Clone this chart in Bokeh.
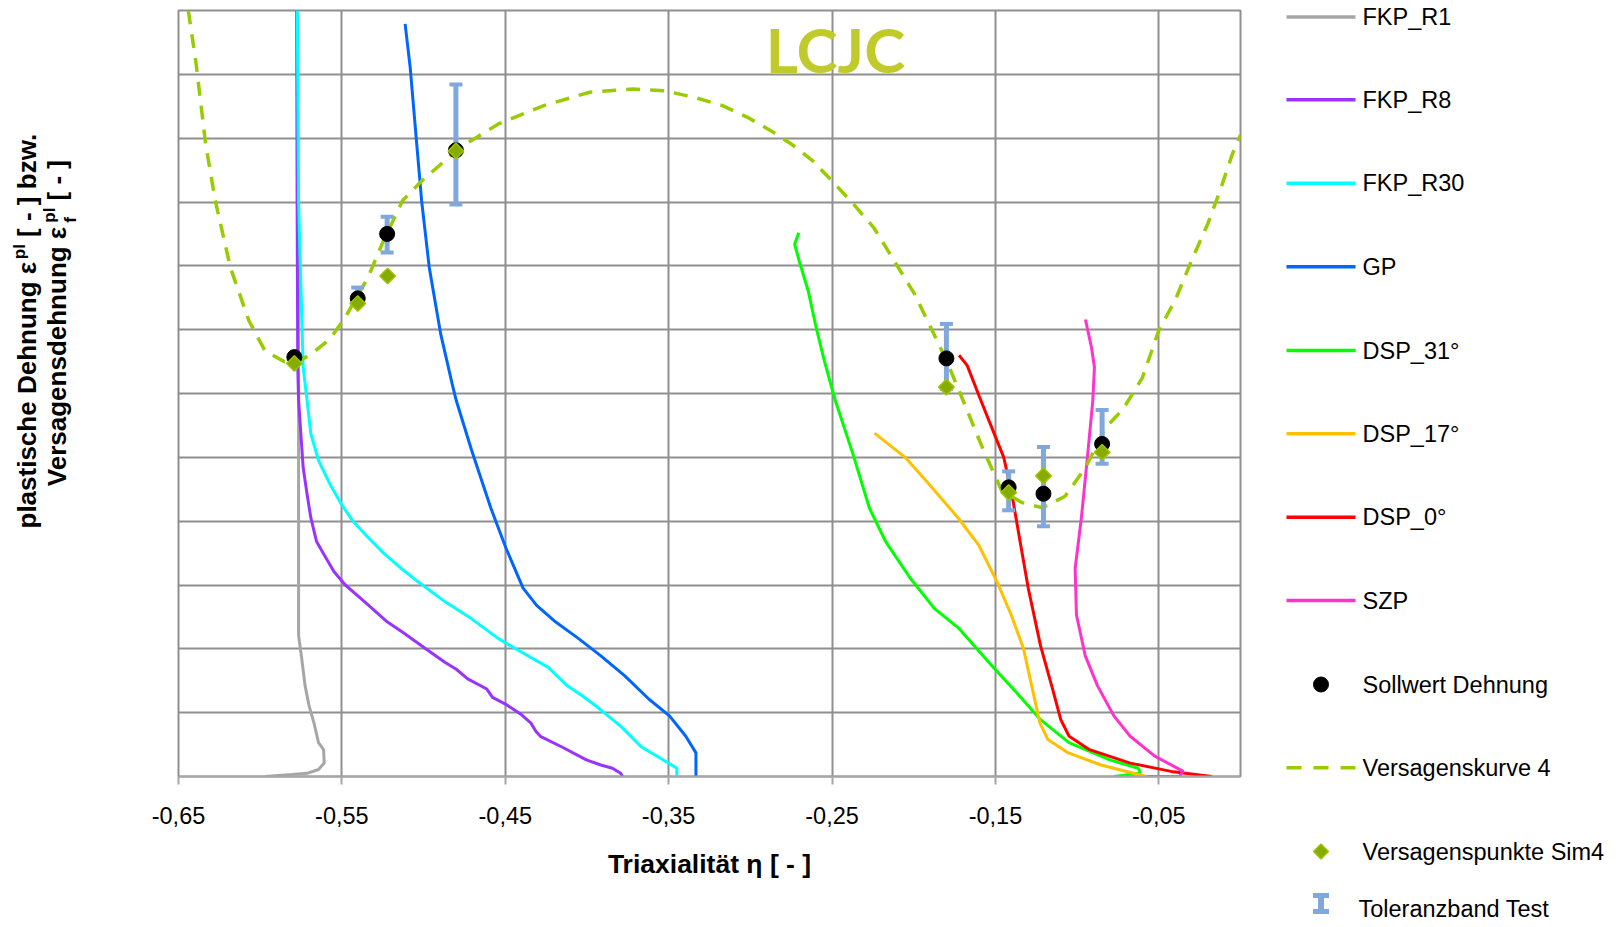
import math

from bokeh.core.properties import value
from bokeh.embed import file_html
from bokeh.layouts import row
from bokeh.models import CustomJSTickFormatter, FixedTicker, Grid, Label, Range1d
from bokeh.plotting import figure
from bokeh.resources import INLINE

# ---------------------------------------------------------------- data
# Triaxiality (eta) and plastic strain (eps) along each specimen's path
fkp_r1_eta = [-0.5773, -0.5768, -0.5765, -0.5765, -0.5765, -0.5748, -0.5725, -0.5701,
              -0.5671, -0.5643, -0.5612, -0.5608, -0.5643, -0.5713, -0.5807, -0.5971]
fkp_r1_eps = [1.200, 0.900, 0.589, 0.379, 0.221, 0.189, 0.142, 0.111,
              0.084, 0.053, 0.042, 0.021, 0.011, 0.005, 0.003, 0.000]

fkp_r8_eta = [-0.5777, -0.5774, -0.5770, -0.5765, -0.5737, -0.5713, -0.5690, -0.5655,
              -0.5608, -0.5549, -0.5479, -0.5362, -0.5221, -0.5128, -0.4987, -0.4870,
              -0.4800, -0.4730, -0.4613, -0.4578, -0.4496, -0.4402, -0.4344, -0.4313,
              -0.4285, -0.4144, -0.4004, -0.3915, -0.3844, -0.3794, -0.3782]
fkp_r8_eps = [1.200, 0.900, 0.641, 0.589, 0.484, 0.442, 0.405, 0.368,
              0.347, 0.321, 0.300, 0.274, 0.242, 0.226, 0.200, 0.179,
              0.168, 0.153, 0.137, 0.124, 0.113, 0.097, 0.084, 0.071,
              0.063, 0.045, 0.026, 0.018, 0.013, 0.005, 0.000]

fkp_r30_eta = [-0.5773, -0.5765, -0.5737, -0.5713, -0.5690, -0.5643, -0.5573, -0.5502,
               -0.5432, -0.5338, -0.5245, -0.5151, -0.5034, -0.4870, -0.4706, -0.4542,
               -0.4402, -0.4237, -0.4120, -0.4027, -0.3933, -0.3794, -0.3670, -0.3520,
               -0.3450, -0.3450]
fkp_r30_eps = [1.200, 0.900, 0.641, 0.589, 0.537, 0.495, 0.458, 0.426,
               0.400, 0.374, 0.350, 0.329, 0.305, 0.274, 0.247, 0.216,
               0.195, 0.171, 0.142, 0.126, 0.108, 0.079, 0.047, 0.024,
               0.013, 0.000]

gp_eta = [-0.5113, -0.5082, -0.5047, -0.5012, -0.4965, -0.4895, -0.4825, -0.4800,
          -0.4706, -0.4589, -0.4496, -0.4391, -0.4308, -0.4191, -0.4051, -0.3915,
          -0.3770, -0.3620, -0.3495, -0.3395, -0.3333, -0.3333]
gp_eps = [1.179, 1.111, 1.006, 0.902, 0.797, 0.693, 0.615, 0.589,
          0.511, 0.421, 0.358, 0.295, 0.268, 0.242, 0.216, 0.189,
          0.158, 0.121, 0.095, 0.063, 0.037, 0.000]

dsp31_eta = [-0.2704, -0.2729, -0.2696, -0.2646, -0.2597, -0.2547, -0.2480, -0.2372,
             -0.2272, -0.2172, -0.2022, -0.1873, -0.1723, -0.1523, -0.1373, -0.1224,
             -0.1050, -0.0800, -0.0625, -0.0613, -0.0775]
dsp31_eps = [0.852, 0.834, 0.803, 0.761, 0.703, 0.651, 0.589, 0.505,
             0.421, 0.368, 0.311, 0.263, 0.232, 0.174, 0.132, 0.089,
             0.053, 0.026, 0.013, 0.005, 0.000]

dsp17_eta = [-0.2240, -0.2053, -0.1923, -0.1728, -0.1603, -0.1490, -0.1403, -0.1328,
             -0.1278, -0.1228, -0.1179, -0.1054, -0.0854, -0.0655, -0.0580]
dsp17_eps = [0.538, 0.500, 0.463, 0.405, 0.363, 0.305, 0.253, 0.200,
             0.142, 0.084, 0.058, 0.037, 0.018, 0.005, 0.000]

dsp0_eta = [-0.1723, -0.1673, -0.1598, -0.1523, -0.1449, -0.1399, -0.1349, -0.1299,
            -0.1224, -0.1150, -0.1100, -0.1049, -0.0924, -0.0675, -0.0425, -0.0176]
dsp0_eps = [0.660, 0.644, 0.595, 0.547, 0.500, 0.442, 0.368, 0.295,
            0.205, 0.137, 0.089, 0.063, 0.042, 0.021, 0.008, 0.000]

szp_eta = [-0.0949, -0.0912, -0.0894, -0.0904, -0.0937, -0.0974, -0.1012, -0.1004,
           -0.0950, -0.0875, -0.0775, -0.0675, -0.0525, -0.0350, -0.0375, -0.0575]
szp_eps = [0.716, 0.672, 0.641, 0.589, 0.500, 0.405, 0.326, 0.253,
           0.189, 0.142, 0.095, 0.063, 0.032, 0.008, 0.000, 0.000]

# Failure curve 4
curve4_eta = [-0.6440, -0.6392, -0.6334, -0.6275, -0.6182, -0.6069, -0.5971, -0.5854,
              -0.5784, -0.5691, -0.5574, -0.5480, -0.5340, -0.5246, -0.5129, -0.5012,
              -0.4778, -0.4544, -0.4264, -0.3983, -0.3720, -0.3520, -0.3345, -0.3170,
              -0.3020, -0.2870, -0.2745, -0.2620, -0.2500, -0.2370, -0.2245, -0.2120,
              -0.1995, -0.1895, -0.1798, -0.1698, -0.1573, -0.1460, -0.1336, -0.1211,
              -0.1074, -0.0949, -0.0824, -0.0720, -0.0600, -0.0500, -0.0400, -0.0300,
              -0.0200, -0.0125, -0.0050, 0.0000]
curve4_eps = [1.200, 1.116, 0.991, 0.902, 0.797, 0.714, 0.667, 0.650,
              0.648, 0.661, 0.685, 0.719, 0.782, 0.839, 0.902, 0.933,
              0.985, 1.022, 1.051, 1.072, 1.077, 1.074, 1.064, 1.051,
              1.033, 1.011, 0.990, 0.965, 0.933, 0.897, 0.860, 0.808,
              0.756, 0.703, 0.651, 0.589, 0.511, 0.447, 0.429, 0.421,
              0.439, 0.484, 0.547, 0.575, 0.625, 0.699, 0.746, 0.808,
              0.866, 0.918, 0.975, 1.005]

# Target strains (Sollwert) and simulated failure points (Sim4)
soll_eta = [-0.5791, -0.5403, -0.5223, -0.4802, -0.1800, -0.1419, -0.1206, -0.0847]
soll_eps = [0.657, 0.749, 0.850, 0.981, 0.655, 0.453, 0.443, 0.521]
sim4_eta = [-0.5791, -0.5403, -0.5220, -0.4802, -0.1800, -0.1419, -0.1206, -0.0847]
sim4_eps = [0.647, 0.741, 0.784, 0.980, 0.610, 0.445, 0.471, 0.508]

# Test tolerance band
tol_eta = [-0.5403, -0.5223, -0.4802, -0.1800, -0.1419, -0.1206, -0.0847]
tol_low = [0.744, 0.821, 0.896, 0.607, 0.417, 0.392, 0.490]
tol_high = [0.766, 0.877, 1.084, 0.709, 0.478, 0.516, 0.574]

# Axis ticks
eta_ticks = [-0.65, -0.55, -0.45, -0.35, -0.25, -0.15, -0.05]
eta_tick_labels = ["-0,65", "-0,55", "-0,45", "-0,35", "-0,25", "-0,15", "-0,05"]
eta_grid = [-0.65, -0.55, -0.45, -0.35, -0.25, -0.15, -0.05, 0.0]
eps_grid = [0.0, 0.1, 0.2, 0.3, 0.4, 0.5, 0.6, 0.7, 0.8, 0.9, 1.0, 1.1, 1.2]

# ---------------------------------------------------------------- layout
W, H = 1623, 927
TITLE_W = 100            # left strip holding the rotated y title
LEGEND_X0 = 1280         # start of the right strip holding the legend
F_LEFT, F_RIGHT, F_TOP, F_BOTTOM = 178, 1240, 10, 776
X0, X1, Y0, Y1 = -0.65, 0.0, 0.0, 1.2

FONT = "Liberation Sans"
GRID_COLOR = "#8F8F8F"
AXIS_COLOR = "#A6A6A6"
TOL_COLOR = "#80A8DC"
CURVE4_COLOR = "#99CC00"
SIM4_FILL, SIM4_LINE = "#86AC00", "#9CC400"


def no_frame_align(f):
    """Keep a figure's frame independent of its neighbours in the row."""
    if "frame_align" in f.properties():
        f.frame_align = False
    return f


def strip(x_start, width):
    """Blank figure whose data units are canvas pixels (y grows downward)."""
    f = figure(width=width, height=H, x_range=Range1d(x_start, x_start + width),
               y_range=Range1d(H, 0), output_backend="svg", toolbar_location=None,
               x_axis_location=None, y_axis_location=None, min_border=0)
    f.grid.visible = False
    f.outline_line_color = None
    f.background_fill_color = "white"
    f.border_fill_color = "white"
    return no_frame_align(f)


# ---------------------------------------------------------------- main chart
p = figure(width=LEGEND_X0 - TITLE_W, height=H,
           x_range=Range1d(X0, X1), y_range=Range1d(Y0, Y1),
           output_backend="svg", toolbar_location=None, y_axis_location=None,
           min_border_left=F_LEFT - TITLE_W, min_border_right=LEGEND_X0 - F_RIGHT,
           min_border_top=F_TOP, min_border_bottom=H - F_BOTTOM)
no_frame_align(p)
p.background_fill_color = "white"
p.border_fill_color = "white"
p.outline_line_color = GRID_COLOR
p.outline_line_width = 2
p.grid.visible = False
p.add_layout(Grid(dimension=0, ticker=FixedTicker(ticks=eta_grid),
                  grid_line_color=GRID_COLOR, grid_line_width=2))
p.add_layout(Grid(dimension=1, ticker=FixedTicker(ticks=eps_grid),
                  grid_line_color=GRID_COLOR, grid_line_width=2))

ax = p.xaxis[0]
ax.ticker = FixedTicker(ticks=eta_ticks)
ax.formatter = CustomJSTickFormatter(
    args=dict(tick_values=eta_ticks, tick_texts=eta_tick_labels),
    code="""
const i = tick_values.findIndex((t) => Math.abs(t - tick) < 1e-9);
return i >= 0 ? tick_texts[i] : '';
""")
ax.axis_line_color = AXIS_COLOR
ax.axis_line_width = 2
ax.major_tick_line_color = AXIS_COLOR
ax.major_tick_line_width = 2
ax.major_tick_out = 8
ax.major_tick_in = 0
ax.minor_tick_line_color = None
ax.major_label_text_font = FONT
ax.major_label_text_font_size = "23.5px"
ax.major_label_text_color = "black"
ax.major_label_standoff = 22
ax.axis_label = "Triaxialität η [ - ]"
ax.axis_label_text_font = FONT
ax.axis_label_text_font_size = "26.5px"
ax.axis_label_text_font_style = "bold"
ax.axis_label_text_color = "black"
ax.axis_label_standoff = 22

specimens = [
    ("FKP_R1", fkp_r1_eta, fkp_r1_eps, "#A6A6A6"),
    ("FKP_R8", fkp_r8_eta, fkp_r8_eps, "#9933FF"),
    ("FKP_R30", fkp_r30_eta, fkp_r30_eps, "#00FFFF"),
    ("GP", gp_eta, gp_eps, "#0066FF"),
    ("DSP_31°", dsp31_eta, dsp31_eps, "#00FF00"),
    ("DSP_17°", dsp17_eta, dsp17_eps, "#FFC000"),
    ("DSP_0°", dsp0_eta, dsp0_eps, "#FF0000"),
    ("SZP", szp_eta, szp_eps, "#FF33CC"),
]
for name, xs, ys, color in specimens:
    p.line(xs, ys, line_color=color, line_width=3)

p.line(curve4_eta, curve4_eps, line_color=CURVE4_COLOR, line_width=3.5,
       line_dash="14 10")

p.segment(x0=tol_eta, y0=tol_low, x1=tol_eta, y1=tol_high,
          line_color=TOL_COLOR, line_width=5)
p.scatter(tol_eta, tol_low, marker="dash", size=13, line_color=TOL_COLOR, line_width=4)
p.scatter(tol_eta, tol_high, marker="dash", size=13, line_color=TOL_COLOR, line_width=4)

p.scatter(soll_eta, soll_eps, marker="circle", size=15,
          fill_color="black", line_color="black")
p.scatter(sim4_eta, sim4_eps, marker="square", angle=math.pi / 4, size=11,
          fill_color=SIM4_FILL, line_color=SIM4_LINE, line_width=1.5)

# brand mark inside the plot area
LOGO_PX, LOGO_PY = 835, 48.3
p.add_layout(Label(x=X0 + (LOGO_PX - F_LEFT) * (X1 - X0) / (F_RIGHT - F_LEFT),
                   y=Y0 + (F_BOTTOM - LOGO_PY) * (Y1 - Y0) / (F_BOTTOM - F_TOP),
                   text="LCJC", text_font="Lato", text_font_style="bold",
                   text_font_size="62px", text_color="#C0CA2B",
                   text_align="center", text_baseline="middle"))

# ---------------------------------------------------------------- y title strip
t = strip(0, TITLE_W)
# rotated title, assembled from pieces for the super-/subscripts
y_title_parts = [
    ("plastische Dehnung ε", 26.5, 528.0, "26px"),
    ("pl", 18.6, 258.7, "17px"),
    ("[ - ] bzw.", 26.5, 236.4, "26px"),
    ("Versagensdehnung ε", 56.5, 485.7, "26px"),
    ("pl", 48.6, 222.2, "17px"),
    ("f", 70.0, 222.2, "17px"),
    ("[ - ]", 56.5, 199.9, "26px"),
]
for txt, cx, cy, size in y_title_parts:
    t.add_layout(Label(x=cx, y=cy, text=txt, angle=math.pi / 2,
                       text_font=FONT, text_font_style="bold",
                       text_font_size=size, text_color="black",
                       text_align="left", text_baseline="middle"))

# ---------------------------------------------------------------- legend strip
lg = strip(LEGEND_X0, W - LEGEND_X0)
SW_X0, SW_X1 = 1286, 1355          # swatch span
SW_MID = (SW_X0 + SW_X1) / 2
TXT_X = 1362
legend_rows = [
    ("FKP_R1", 16.6), ("FKP_R8", 99.3), ("FKP_R30", 182.7), ("GP", 266.3),
    ("DSP_31°", 350.0), ("DSP_17°", 433.3), ("DSP_0°", 516.7), ("SZP", 600.0),
    ("Sollwert Dehnung", 684.0), ("Versagenskurve 4", 767.3),
    ("Versagenspunkte Sim4", 851.0), ("Toleranzband Test", 908.0),
]
row_y = dict(legend_rows)

for name, _, _, color in specimens:
    y = row_y[name]
    lg.line([SW_X0, SW_X1], [y, y], line_color=color, line_width=3.5)

y = row_y["Versagenskurve 4"]
lg.line([SW_X0, SW_X1], [y, y], line_color=CURVE4_COLOR, line_width=3.5,
        line_dash="15 12")

lg.scatter([SW_MID], [row_y["Sollwert Dehnung"]], marker="circle", size=15,
           fill_color="black", line_color="black")
lg.scatter([SW_MID], [row_y["Versagenspunkte Sim4"]], marker="square",
           angle=math.pi / 4, size=10.5, fill_color=SIM4_FILL, line_color=SIM4_LINE,
           line_width=1.5)

yb = row_y["Toleranzband Test"] - 5
lg.segment(x0=[SW_MID], y0=[yb - 8], x1=[SW_MID], y1=[yb + 8],
           line_color=TOL_COLOR, line_width=6)
lg.scatter([SW_MID, SW_MID], [yb - 8, yb + 8], marker="dash", size=16,
           line_color=TOL_COLOR, line_width=5)

lg.text(x=[TXT_X if n != "Toleranzband Test" else TXT_X - 4 for n, _ in legend_rows],
        y=[cy for _, cy in legend_rows], text=[n for n, _ in legend_rows],
        text_font=value(FONT), text_font_size="23.5px", text_color="black",
        text_align="left", text_baseline="middle")

layout = row(t, p, lg, spacing=0)
open("out.html", "w").write(file_html(layout, INLINE))
